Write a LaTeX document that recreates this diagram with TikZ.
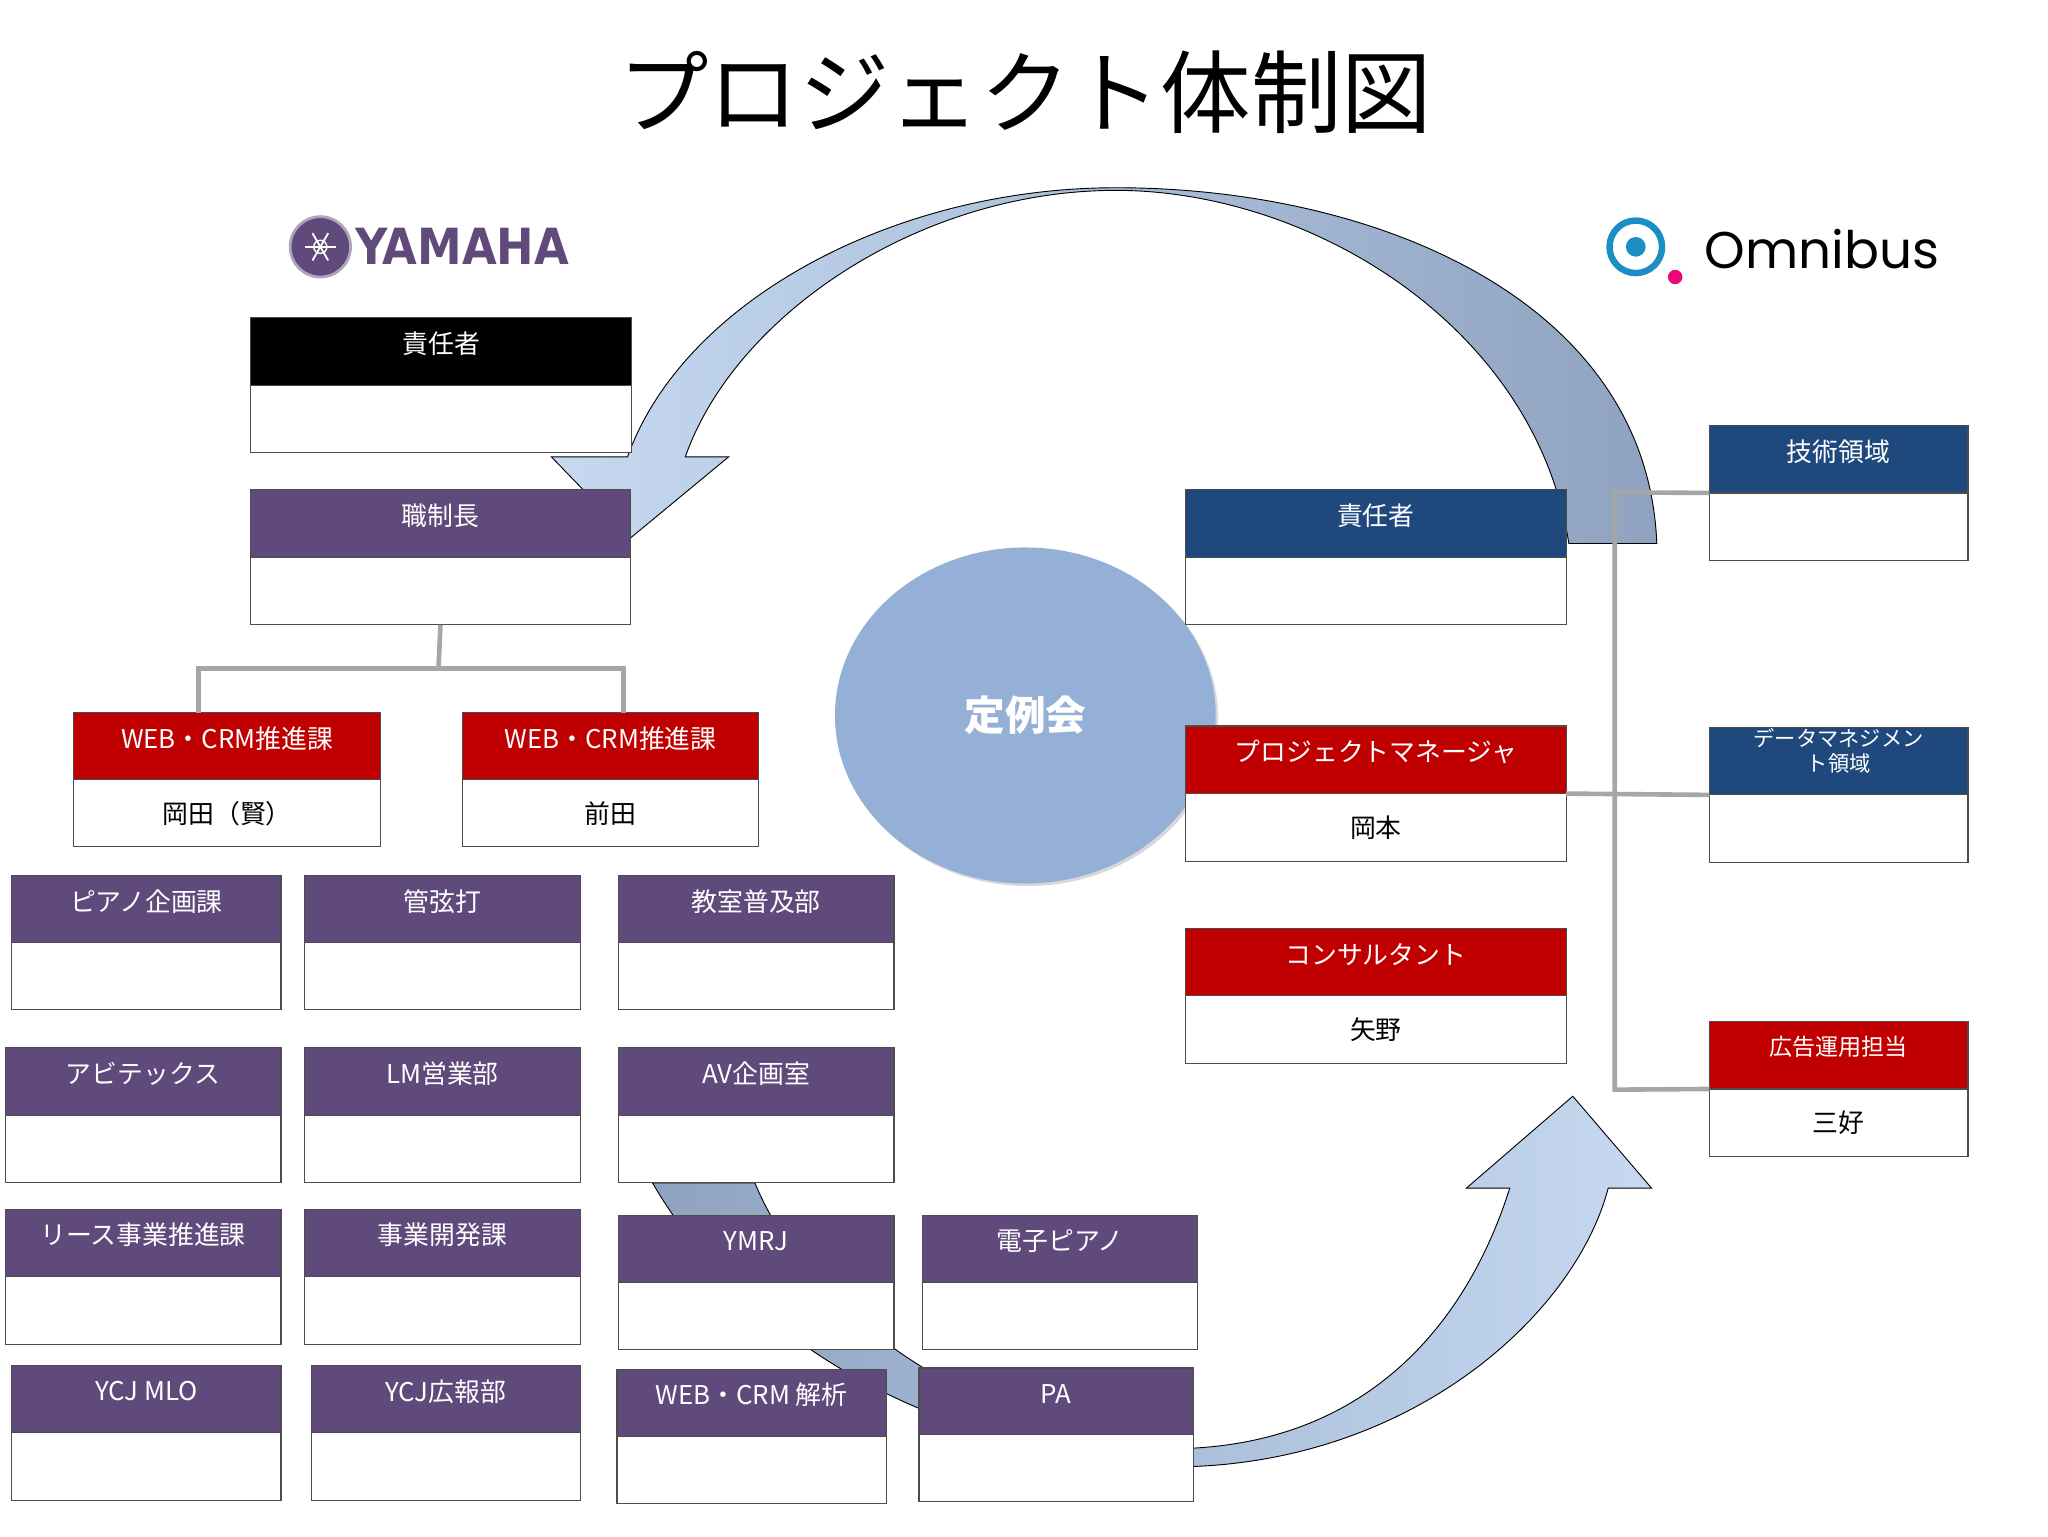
\documentclass[tikz,border=0pt]{standalone}
\usepackage{fontspec}
\setmainfont{Noto Sans CJK JP}
\usetikzlibrary{shadows,shapes.geometric}
\definecolor{ypur}{HTML}{604A7B}
\definecolor{ored}{HTML}{C00000}
\definecolor{oblu}{HTML}{1F497D}
\definecolor{cgray}{HTML}{A6A6A6}
\definecolor{circ}{HTML}{95B0D6}
\definecolor{alight}{HTML}{C6D9F1}
\definecolor{adark}{HTML}{8FA2C0}
\definecolor{ocyan}{HTML}{1B8FC4}
\tikzset{
 hd/.style={draw=black!70,line width=1.2pt,text=white,outer sep=0pt,inner sep=0pt,font=\fontsize{28}{32}\selectfont},
 bd/.style={draw=black!70,line width=1.2pt,fill=white,outer sep=0pt,inner sep=0pt,font=\fontsize{28}{32}\selectfont},
 conn/.style={draw=cgray,line width=5pt},
}
\newcommand\obox[8]{%
\pgfmathsetmacro\bw{(#4-#2)*0.05}\pgfmathsetmacro\bh{(#5-#3)*0.025}%
\node[hd,fill=#6,minimum width=\bw cm,minimum height=\bh cm,anchor=north west] (#1h) at (#2,#3) {};
\node[text=white,font=\fontsize{28}{32}\selectfont] at ([yshift=0.3cm]#1h.center) {#7};
\node[bd,minimum width=\bw cm,minimum height=\bh cm,anchor=north west] (#1) at (#1h.south west) {#8};}
\begin{document}
\begin{tikzpicture}[x=0.05cm,y=-0.05cm]
\useasboundingbox[fill=white] (0,0) rectangle (1560,1170);
\node (title) at (781,70) {\fontsize{98}{110}\selectfont プロジェクト体制図};
% logos
\node[circle,fill=ypur,minimum size=2.3cm,draw=ypur!50,line width=3pt] (ylogo) at (244,188) {};
\foreach \a in {0,60,120} \draw[white,line width=2pt] (ylogo.center) ++(\a:12) -- ++(\a+180:24);
\node[circle,draw=white,line width=1.5pt,minimum size=0.5cm] at (ylogo) {};
\node[anchor=west,text=ypur] (yname) at (268,188) {\fontsize{54}{54}\selectfont\bfseries\fontspec{DejaVu Sans Condensed}YAMAHA};
\node[circle,draw=ocyan,line width=7pt,minimum size=2.0cm] (ologo) at (1246,188) {};
\node[circle,fill=ocyan,minimum size=0.75cm] (odot) at (1246,188) {};
\node[circle,fill=magenta!80!red,minimum size=0.55cm] (opink) at (1276,211) {};
\node[anchor=west] (oname) at (1296,190) {\fontsize{56}{56}\selectfont\fontspec{Poppins}Omnibus};
% big arrows
\path[draw=black,line width=1pt,left color=alight,right color=adark]
 (1262,414) .. controls (1255,230) and (1050,143) .. (850,143) .. controls (680,143) and (520,230) .. (478,348)
 -- (420,348) -- (480,410) -- (555,348) -- (522,348) .. controls (560,240) and (700,145) .. (850,145)
 .. controls (1000,145) and (1170,250) .. (1195,414) -- cycle;
\path[draw=black,line width=1pt,left color=adark,right color=alight]
 (497,901) .. controls (560,1010) and (700,1110) .. (910,1117) .. controls (1080,1110) and (1200,1000) .. (1225,905)
 -- (1258,905) -- (1198,835) -- (1117,905) -- (1150,905) .. controls (1120,1000) and (1050,1095) .. (910,1103)
 .. controls (760,1100) and (620,1010) .. (575,901) -- cycle;
% circle
\node[ellipse,fill=circ,minimum width=14.5cm,minimum height=12.8cm,drop shadow={opacity=0.3}] (teirei) at (781,545) {};
\node[text=white] at (teirei) {\fontsize{44}{44}\selectfont\bfseries 定例会};
% Yamaha boxes
\obox{ysek}{191}{242}{481}{345}{black}{責任者}{}
\obox{zs}{191}{373}{480}{476}{ypur}{職制長}{}
\obox{wl}{56}{543}{290}{645}{ored}{WEB・CRM推進課}{岡田（賢）}
\obox{wr}{352}{543}{578}{645}{ored}{WEB・CRM推進課}{前田}
\obox{a1}{9}{667}{214}{769}{ypur}{ピアノ企画課}{}
\obox{a2}{232}{667}{442}{769}{ypur}{管弦打}{}
\obox{a3}{471}{667}{681}{769}{ypur}{教室普及部}{}
\obox{b1}{4}{798}{214}{901}{ypur}{アビテックス}{}
\obox{b2}{232}{798}{442}{901}{ypur}{LM営業部}{}
\obox{b3}{471}{798}{681}{901}{ypur}{AV企画室}{}
\obox{c1}{4}{921}{214}{1024}{ypur}{リース事業推進課}{}
\obox{c2}{232}{921}{442}{1024}{ypur}{事業開発課}{}
\obox{c3}{471}{926}{681}{1028}{ypur}{YMRJ}{}
\obox{c4}{703}{926}{912}{1028}{ypur}{電子ピアノ}{}
\obox{d1}{9}{1040}{214}{1143}{ypur}{YCJ MLO}{}
\obox{d2}{237}{1040}{442}{1143}{ypur}{YCJ広報部}{}
\obox{d3}{470}{1043}{675}{1145}{ypur}{WEB・CRM 解析}{}
\obox{d4}{700}{1042}{909}{1144}{ypur}{PA}{}
% Omnibus boxes
\obox{osek}{903}{373}{1193}{476}{oblu}{責任者}{}
\obox{pm}{903}{553}{1193}{656}{ored}{プロジェクトマネージャ}{岡本}
\obox{cs}{903}{707}{1193}{810}{ored}{コンサルタント}{矢野}
\obox{gj}{1302}{324}{1499}{427}{oblu}{技術領域}{}
\obox{dm}{1302}{554}{1499}{657}{oblu}{\fontsize{23}{24}\selectfont\begin{tabular}{@{}c@{}}データマネジメン\\ト領域\end{tabular}}{}
\obox{ad}{1302}{778}{1499}{881}{ored}{\fontsize{25}{30}\selectfont 広告運用担当}{三好}
% connectors
\coordinate (ym) at (334,509);
\draw[conn] (zs.south) -- (ym);
\path (wlh.north) ++(-22,0) coordinate (wlt) (wrh.north) ++(10,0) coordinate (wrt);
\draw[conn] (wlt) |- (ym) -| (wrt);
\coordinate (bt) at (1230,375);
\coordinate (bb) at (1230,830);
\draw[conn] (gj.north west) -- (bt) -- (bb) -- (adh.south west);
\draw[conn] (pmh.south east) -- (dmh.south west);
\end{tikzpicture}
\end{document}
